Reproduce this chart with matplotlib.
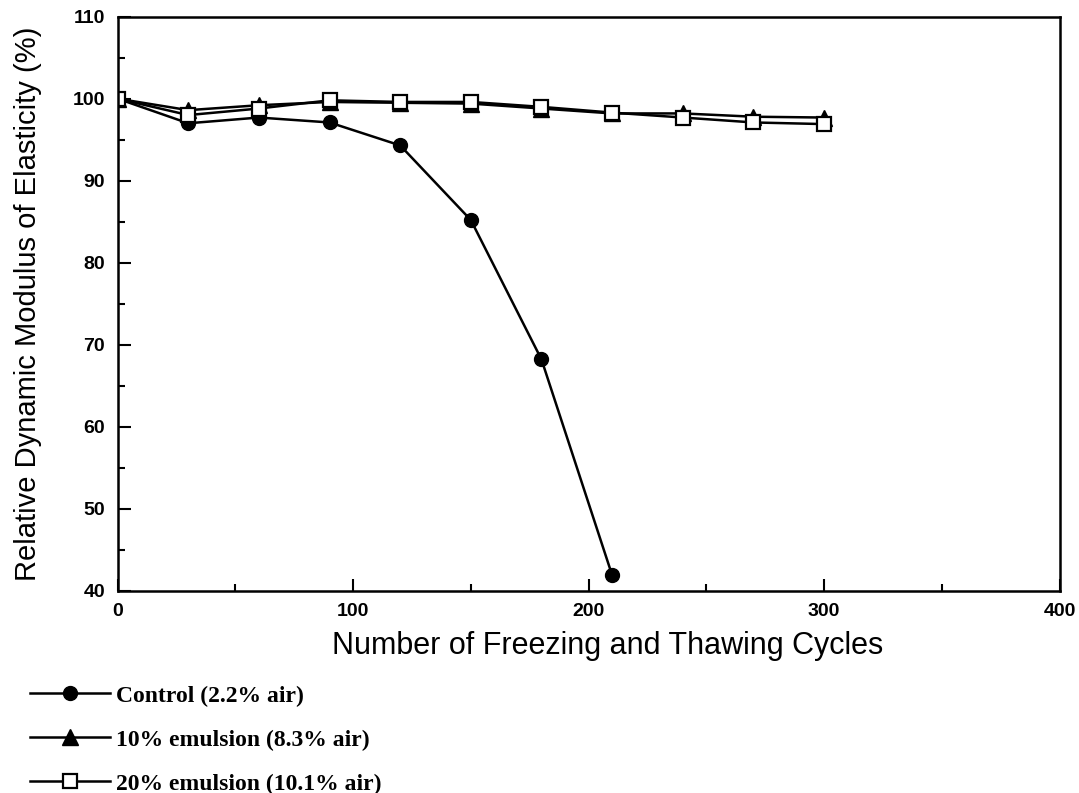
import matplotlib
matplotlib.use("Agg")
import matplotlib.pyplot as plt
from matplotlib.ticker import MultipleLocator

cycles_control = [0, 30, 60, 90, 120, 150, 180, 210]
control = [100.0, 97.0, 97.7, 97.1, 94.3, 85.2, 68.2, 41.9]
cycles_em = [0, 30, 60, 90, 120, 150, 180, 210, 240, 270, 300]
em10 = [100.0, 98.6, 99.2, 99.6, 99.5, 99.4, 98.8, 98.2, 98.2, 97.8, 97.7]
em20 = [100.0, 98.0, 98.8, 99.8, 99.6, 99.6, 99.0, 98.3, 97.7, 97.1, 96.9]
labels = ["Control (2.2% air)", "10% emulsion (8.3% air)", "20% emulsion (10.1% air)"]

fig = plt.figure(figsize=(10.79, 7.93), dpi=100)
ax = fig.add_axes([0.109, 0.255, 0.873, 0.724])

sans = "Liberation Sans"
l1, = ax.plot(cycles_control, control, color="black", lw=1.8, marker="o", ms=10, mfc="black", mec="black")
l2, = ax.plot(cycles_em, em10, color="black", lw=1.8, marker="^", ms=11, mfc="black", mec="black")
l3, = ax.plot(cycles_em, em20, color="black", lw=1.8, marker="s", ms=10, mfc="white", mec="black", mew=1.6)

ax.set_xlim(0, 400)
ax.set_ylim(40, 110)
ax.xaxis.set_major_locator(MultipleLocator(100))
ax.xaxis.set_minor_locator(MultipleLocator(50))
ax.yaxis.set_major_locator(MultipleLocator(10))
ax.yaxis.set_minor_locator(MultipleLocator(5))
ax.tick_params(which="both", direction="in", top=False, right=False, width=1.5)
ax.tick_params(which="major", length=9, labelsize=14, pad=9)
ax.tick_params(which="minor", length=5)
for s in ax.spines.values():
    s.set_linewidth(1.8)
for t in ax.get_xticklabels() + ax.get_yticklabels():
    t.set_family(sans)
    t.set_fontweight("bold")

ax.set_xlabel("Number of Freezing and Thawing Cycles", fontsize=22, family=sans)
ax.xaxis.set_label_coords(0.52, -0.07)
ax.set_ylabel("Relative Dynamic Modulus of Elasticity (%)", fontsize=21, family=sans, labelpad=22)

fig.legend([l1, l2, l3], labels, loc="upper left", bbox_to_anchor=(0.028, 0.136),
           frameon=False, handlelength=3.4, handletextpad=0.25, labelspacing=0.95,
           prop={"family": "Liberation Serif", "weight": "bold", "size": 17},
           borderaxespad=0, borderpad=0)

fig.savefig("out.png", dpi=100)
